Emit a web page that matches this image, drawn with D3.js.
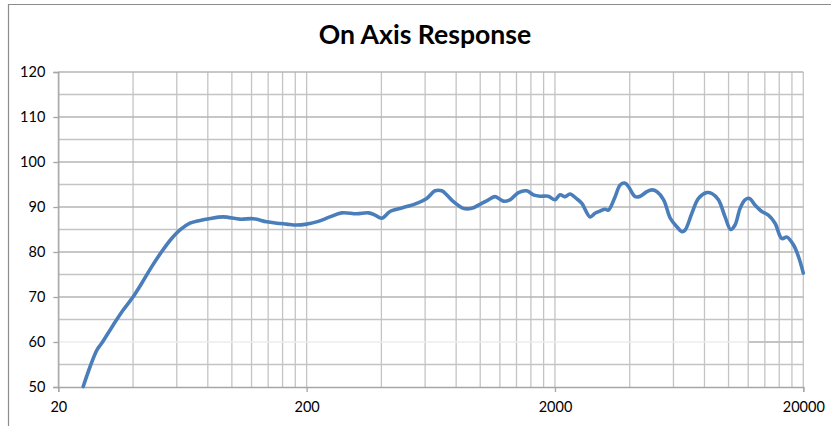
<!DOCTYPE html>
<html><head><meta charset="utf-8">
<script src="https://cdn.jsdelivr.net/npm/d3@7"></script>
<style>
html,body{margin:0;padding:0;background:#fff;}
svg{display:block;}
</style></head>
<body>
<svg id="chart" width="831" height="426"></svg>
<script>
const title = "On Axis Response";
const freqs = [25.2, 26.85, 28.6, 29.9, 33.3, 36.5, 40.1, 43.3, 47.5, 52.2, 57.2, 61.8, 67.8, 74.4, 81, 92.3, 107.8, 122, 138, 151.6, 166, 182, 200, 223, 248, 277, 318, 355, 377, 401, 433, 461, 506, 555, 609, 658, 700, 733, 780, 855, 924, 998, 1079, 1148, 1239, 1318, 1425, 1539, 1637, 1742, 1880, 2000, 2096, 2196, 2299, 2449, 2566, 2769, 2899, 3038, 3184, 3281, 3494, 3661, 3836, 3957, 4209, 4409, 4691, 4917, 5152, 5478, 5826, 6196, 6490, 6690, 7117, 7568, 8177, 8564, 9105, 9683, 10200, 10620, 11130, 11650, 12140, 12800, 13620, 14470, 15390, 16380, 17180, 18250, 19120, 20000];
const levels = [50.1, 54.5, 58.2, 59.7, 63.8, 67.1, 70.1, 73.0, 76.7, 80.1, 83.0, 84.9, 86.4, 87.0, 87.4, 87.8, 87.3, 87.4, 86.7, 86.4, 86.2, 86.0, 86.2, 86.8, 87.8, 88.7, 88.5, 88.7, 88.2, 87.5, 89.0, 89.5, 90.1, 90.8, 91.9, 93.6, 93.6, 92.7, 91.2, 89.7, 89.7, 90.6, 91.6, 92.3, 91.3, 91.6, 93.2, 93.6, 92.7, 92.4, 92.4, 91.6, 92.7, 92.3, 92.9, 91.8, 90.8, 87.8, 88.6, 89.1, 89.5, 89.3, 92.3, 94.9, 95.3, 94.5, 92.3, 92.4, 93.4, 93.8, 93.4, 91.6, 87.5, 85.6, 84.5, 84.9, 88.6, 91.9, 93.2, 93.0, 91.6, 87.8, 85.0, 86.0, 89.7, 91.6, 91.9, 90.4, 89.0, 88.2, 86.4, 83.0, 83.3, 81.6, 79.0, 75.3];
const xTickLabels = [20, 200, 2000, 20000];
const yTickLabels = [50, 60, 70, 80, 90, 100, 110, 120];
const yMinorLines = [55, 65, 75, 85, 95, 105, 115];

const svg = d3.select("#chart");
const L = 58.3, R = 803.3, T = 72, B = 387;
const x = d3.scaleLog().domain([20, 20000]).range([L, R]);
const y = d3.scaleLinear().domain([50, 120]).range([B, T]);

// outer border
svg.append("path").attr("d", `M8.5,426 V4.5 H831`).attr("fill", "none").attr("stroke", "#8c8c8c").attr("stroke-width", 1.2);

// title
svg.append("text").attr("x", 425).attr("y", 43.5).attr("text-anchor", "middle")
  .attr("font-family", "Lato, 'Open Sans', sans-serif").attr("font-weight", "bold")
  .attr("font-size", 26.6).attr("fill", "#000").text(title);

// vertical grid: 1..10 multiples in each decade
const vGrid = [];
for (let d = 0; d < 3; d++) for (let k = 1; k <= 10; k++) vGrid.push(20 * Math.pow(10, d) * k);
const g = svg.append("g");
g.selectAll("line.v").data(Array.from(new Set(vGrid))).join("line")
  .attr("x1", d => x(d)).attr("x2", d => x(d)).attr("y1", T).attr("y2", B)
  .attr("stroke", "#c4c4c4").attr("stroke-width", 1.3);
g.selectAll("line.hmin").data(yMinorLines).join("line")
  .attr("x1", L).attr("x2", R).attr("y1", d => y(d)).attr("y2", d => y(d))
  .attr("stroke", "#c4c4c4").attr("stroke-width", 1.3);
// major horizontal (60 faint except far right patch)
g.selectAll("line.hmaj").data(yTickLabels.filter(v => v > 50)).join("line")
  .attr("x1", L).attr("x2", R).attr("y1", d => y(d)).attr("y2", d => y(d))
  .attr("stroke", d => d === 60 ? "#ececec" : "#b4b4b4").attr("stroke-width", 1.3);
g.append("line").attr("x1", x(12000)).attr("x2", R).attr("y1", y(60)).attr("y2", y(60))
  .attr("stroke", "#b4b4b4").attr("stroke-width", 1.3);

// axes
const font = "Lato, 'Open Sans', sans-serif";
const yAxis = svg.append("g").attr("transform", `translate(${L},0)`)
  .call(d3.axisLeft(y).tickValues(yTickLabels).tickSize(5).tickPadding(8).tickFormat(d3.format("d")));
const xAxis = svg.append("g").attr("transform", `translate(0,${B})`)
  .call(d3.axisBottom(x).tickValues(xTickLabels).tickSize(5).tickPadding(10).tickFormat(d3.format("d")));
[yAxis, xAxis].forEach(a => {
  a.select(".domain").attr("stroke", "#a6a6a6").attr("stroke-width", 1.3);
  a.selectAll(".tick line").attr("stroke", "#a6a6a6").attr("stroke-width", 1.3);
  a.selectAll("text").attr("font-family", font).attr("font-size", 14.5).attr("fill", "#000");
});

// curve
const pts = freqs.map((f, i) => [f, levels[i]]);
svg.append("path").datum(pts)
  .attr("d", d3.line().x(d => x(d[0])).y(d => y(d[1])).curve(d3.curveCatmullRom.alpha(0.5)))
  .attr("fill", "none").attr("stroke", "#4a7ebb").attr("stroke-width", 3.6)
  .attr("stroke-linejoin", "round").attr("stroke-linecap", "round");
</script>
</body></html>
